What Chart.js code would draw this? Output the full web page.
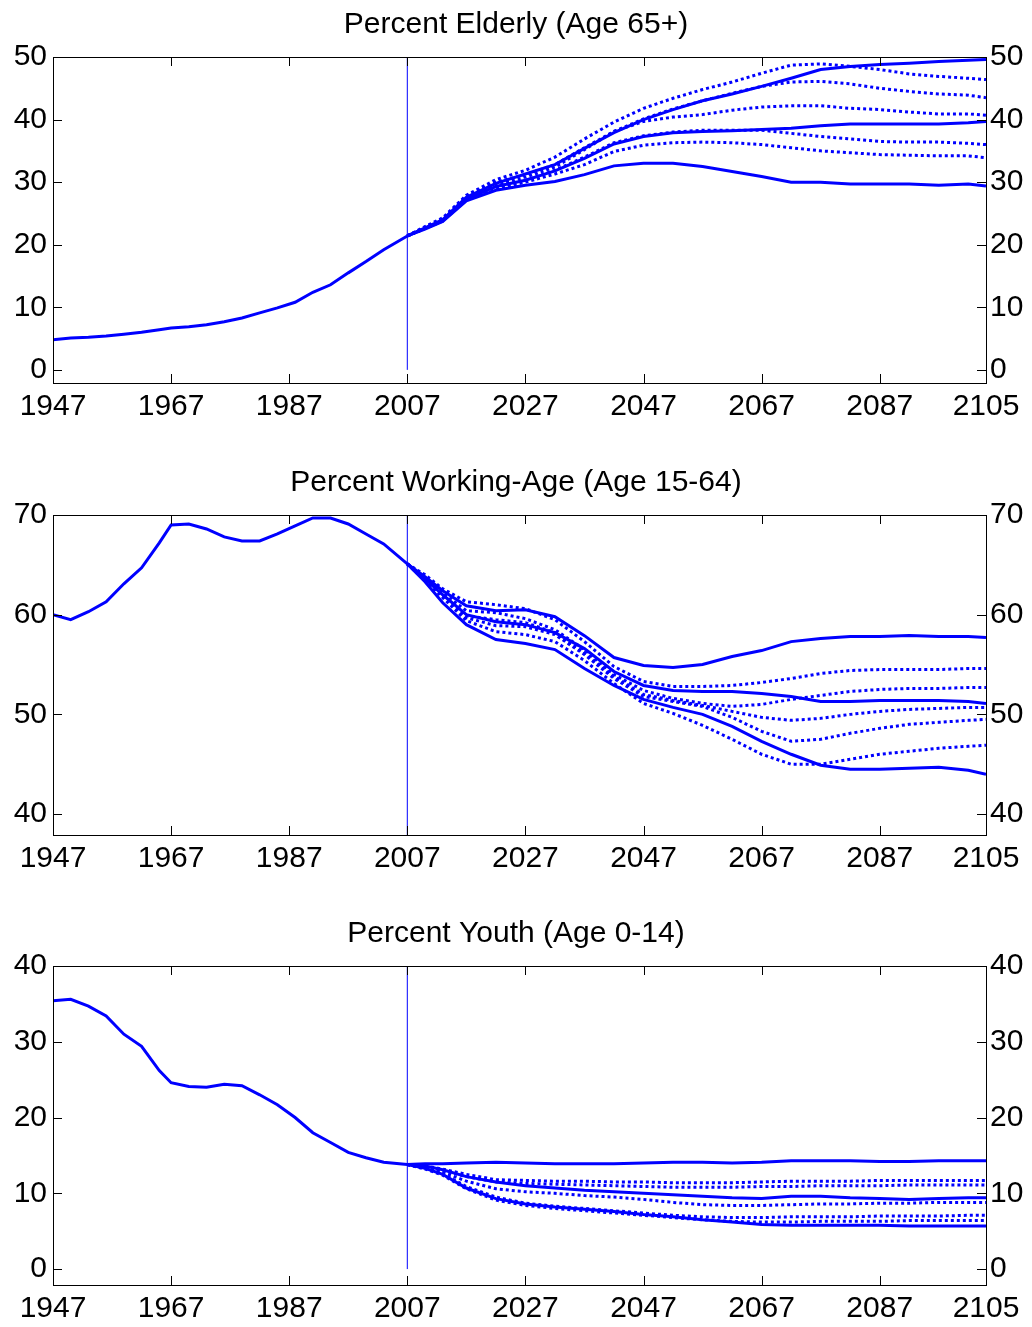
<!DOCTYPE html>
<html>
<head>
<meta charset="utf-8">
<title>Population shares</title>
<script src="https://cdn.jsdelivr.net/npm/chart.js@4.4.0/dist/chart.umd.min.js"></script>
<style>
    html, body { margin: 0; padding: 0; background: #ffffff; }
    body { width: 1032px; height: 1327px; position: relative; overflow: hidden; }
    canvas { position: absolute; left: 0; }
</style>
</head>
<body>
<canvas id="graficoElderly" width="1032" height="427" style="top:0px"></canvas>
<canvas id="graficoWorking" width="1032" height="421" style="top:458px"></canvas>
<canvas id="graficoYouth" width="1032" height="418" style="top:909px"></canvas>
<script>
// Anos (eixo x)
const histYears = [1947, 1950, 1953, 1956, 1959, 1962, 1965, 1967, 1970, 1973, 1976, 1979, 1982, 1985, 1988, 1991, 1994, 1997, 2000, 2003, 2007];
const projYears = [2007, 2010, 2013, 2017, 2022, 2027, 2032, 2037, 2042, 2047, 2052, 2057, 2062, 2067, 2072, 2077, 2082, 2087, 2092, 2097, 2102, 2105];
const xTickYears = [1947, 1967, 1987, 2007, 2027, 2047, 2067, 2087, 2105];

// Percent Elderly (Age 65+)
const elderlyTicks = [0, 10, 20, 30, 40, 50];
const elderlyHist = [4.8, 5.1, 5.2, 5.4, 5.7, 6.0, 6.4, 6.7, 6.9, 7.2, 7.7, 8.3, 9.1, 9.9, 10.8, 12.4, 13.6, 15.5, 17.3, 19.2, 21.4];
const elderlySolidHigh = [21.4, 22.7, 24.0, 27.6, 29.8, 31.3, 32.8, 35.4, 37.9, 40.0, 41.6, 43.0, 44.1, 45.3, 46.6, 48.0, 48.5, 48.8, 49.0, 49.3, 49.5, 49.6];
const elderlySolidMid = [21.4, 22.6, 23.8, 27.3, 29.3, 30.3, 31.8, 33.8, 36.1, 37.3, 37.9, 38.1, 38.2, 38.4, 38.6, 39.0, 39.3, 39.3, 39.3, 39.3, 39.5, 39.7];
const elderlySolidLow = [21.4, 22.5, 23.7, 27.0, 28.7, 29.5, 30.1, 31.2, 32.6, 33.0, 33.0, 32.5, 31.7, 30.9, 30.0, 30.0, 29.7, 29.7, 29.7, 29.5, 29.7, 29.4];
const elderlyDot1 = [21.4, 22.9, 24.3, 27.9, 30.4, 31.9, 34.0, 36.9, 39.6, 41.8, 43.4, 44.8, 46.0, 47.4, 48.7, 48.9, 48.5, 48.0, 47.3, 46.9, 46.6, 46.4];
const elderlyDot2 = [21.4, 22.8, 24.1, 27.7, 30.0, 31.2, 32.8, 35.5, 38.1, 40.1, 41.7, 43.0, 44.2, 45.3, 46.0, 46.1, 45.7, 45.0, 44.5, 44.1, 43.9, 43.5];
const elderlyDot3 = [21.4, 22.7, 24.0, 27.5, 29.6, 30.8, 32.4, 35.2, 38.1, 39.7, 40.4, 40.8, 41.5, 42.0, 42.2, 42.2, 41.8, 41.6, 41.2, 40.9, 40.9, 40.7];
const elderlyDot4 = [21.4, 22.6, 23.9, 27.4, 29.3, 30.3, 31.9, 34.0, 36.3, 37.4, 38.0, 38.3, 38.3, 38.3, 37.8, 37.3, 36.9, 36.5, 36.4, 36.4, 36.2, 36.0];
const elderlyDot5 = [21.4, 22.6, 23.8, 27.2, 28.9, 30.0, 31.3, 32.8, 34.9, 35.9, 36.3, 36.4, 36.3, 36.0, 35.5, 35.0, 34.7, 34.4, 34.3, 34.2, 34.2, 33.9];

// Percent Working-Age (Age 15-64)
const workingTicks = [40, 50, 60, 70];
const workingHist = [60.0, 59.5, 60.3, 61.3, 63.1, 64.7, 67.2, 69.0, 69.1, 68.6, 67.8, 67.4, 67.4, 68.1, 68.9, 69.7, 69.7, 69.1, 68.1, 67.1, 65.1];
const workingSolidHigh = [65.1, 63.8, 62.4, 60.9, 60.4, 60.5, 59.8, 57.9, 55.7, 54.9, 54.7, 55.0, 55.8, 56.4, 57.3, 57.6, 57.8, 57.8, 57.9, 57.8, 57.8, 57.7];
const workingSolidMid = [65.1, 63.6, 62.0, 60.0, 59.3, 59.0, 58.2, 56.6, 54.3, 52.9, 52.4, 52.3, 52.3, 52.1, 51.8, 51.3, 51.3, 51.4, 51.4, 51.4, 51.3, 51.1];
const workingSolidLow = [65.1, 63.3, 61.2, 59.0, 57.5, 57.1, 56.5, 54.6, 52.9, 51.5, 50.7, 50.0, 48.8, 47.3, 46.0, 44.9, 44.5, 44.5, 44.6, 44.7, 44.4, 44.0];
const workingDot1 = [65.1, 64.0, 62.6, 61.3, 61.0, 60.6, 59.5, 57.3, 54.8, 53.3, 52.8, 52.8, 52.9, 53.2, 53.6, 54.1, 54.4, 54.5, 54.5, 54.5, 54.6, 54.6];
const workingDot2 = [65.1, 63.7, 62.2, 60.4, 60.2, 59.6, 58.5, 56.5, 54.0, 52.4, 51.6, 51.1, 50.8, 51.0, 51.5, 51.9, 52.3, 52.5, 52.6, 52.6, 52.7, 52.7];
const workingDot3 = [65.1, 63.6, 62.0, 59.9, 59.5, 59.2, 58.2, 56.2, 53.8, 52.0, 51.4, 50.9, 50.3, 49.7, 49.4, 49.6, 50.0, 50.3, 50.5, 50.6, 50.7, 50.7];
const workingDot4 = [65.1, 63.5, 61.9, 59.7, 58.9, 58.8, 58.0, 56.0, 53.6, 51.8, 51.3, 50.8, 49.7, 48.3, 47.3, 47.5, 48.1, 48.6, 49.0, 49.2, 49.4, 49.5];
const workingDot5 = [65.1, 63.4, 61.7, 59.4, 58.3, 58.0, 57.3, 55.4, 53.1, 51.1, 50.1, 48.9, 47.5, 46.0, 45.0, 45.0, 45.5, 46.0, 46.3, 46.6, 46.8, 46.9];

// Percent Youth (Age 0-14)
const youthTicks = [0, 10, 20, 30, 40];
const youthHist = [35.4, 35.6, 34.7, 33.4, 31.0, 29.4, 26.2, 24.6, 24.1, 24.0, 24.4, 24.2, 23.0, 21.7, 20.0, 18.0, 16.7, 15.4, 14.7, 14.1, 13.8];
const youthSolidHigh = [13.8, 13.9, 13.9, 14.0, 14.1, 14.0, 13.9, 13.9, 13.9, 14.0, 14.1, 14.1, 14.0, 14.1, 14.3, 14.3, 14.3, 14.2, 14.2, 14.3, 14.3, 14.3];
const youthSolidMid = [13.8, 13.6, 13.1, 12.2, 11.5, 11.0, 10.7, 10.4, 10.2, 10.0, 9.8, 9.6, 9.4, 9.3, 9.6, 9.6, 9.4, 9.3, 9.2, 9.3, 9.4, 9.4];
const youthSolidLow = [13.8, 13.3, 12.5, 10.7, 9.3, 8.6, 8.2, 7.9, 7.6, 7.2, 6.9, 6.5, 6.2, 5.9, 5.8, 5.8, 5.8, 5.8, 5.7, 5.7, 5.7, 5.7];
const youthDot1 = [13.8, 13.6, 13.2, 12.5, 11.8, 11.7, 11.6, 11.6, 11.5, 11.5, 11.4, 11.4, 11.4, 11.5, 11.6, 11.6, 11.6, 11.7, 11.7, 11.7, 11.7, 11.7];
const youthDot2 = [13.8, 13.5, 13.0, 12.2, 11.5, 11.3, 11.2, 11.1, 11.0, 10.9, 10.8, 10.8, 10.8, 10.9, 10.9, 11.0, 11.0, 11.0, 11.1, 11.1, 11.1, 11.1];
const youthDot3 = [13.8, 13.4, 12.8, 11.6, 10.6, 10.2, 10.0, 9.7, 9.5, 9.2, 8.8, 8.5, 8.4, 8.4, 8.5, 8.6, 8.6, 8.7, 8.7, 8.8, 8.8, 8.8];
const youthDot4 = [13.8, 13.3, 12.6, 10.9, 9.5, 8.7, 8.3, 8.0, 7.7, 7.4, 7.1, 6.9, 6.8, 6.8, 6.9, 6.9, 6.9, 7.0, 7.0, 7.0, 7.1, 7.1];
const youthDot5 = [13.8, 13.2, 12.4, 10.6, 9.1, 8.4, 8.0, 7.7, 7.4, 7.1, 6.8, 6.5, 6.3, 6.2, 6.2, 6.3, 6.3, 6.3, 6.4, 6.4, 6.4, 6.4];

const BLUE = '#0000ff';
const FONT = "'Liberation Sans', Arial, Helvetica, sans-serif";

// Eixos no estilo MATLAB: moldura preta e ticks para dentro
const matlabAxes = {
    id: 'matlabAxes',
    afterDraw(chart) {
        const { ctx, chartArea: a, scales: { x, y } } = chart;
        const len = 9;
        ctx.save();
        ctx.strokeStyle = '#000000';
        ctx.lineWidth = 1;
        ctx.beginPath();
        x.ticks.forEach(t => {
            const px = Math.round(x.getPixelForValue(t.value)) + 0.5;
            ctx.moveTo(px, a.bottom); ctx.lineTo(px, a.bottom - len);
            ctx.moveTo(px, a.top); ctx.lineTo(px, a.top + len);
        });
        y.ticks.forEach(t => {
            const py = Math.round(y.getPixelForValue(t.value)) + 0.5;
            ctx.moveTo(a.left, py); ctx.lineTo(a.left + len, py);
            ctx.moveTo(a.right, py); ctx.lineTo(a.right - len, py);
        });
        ctx.stroke();
        ctx.strokeRect(Math.round(a.left) + 0.5, Math.round(a.top) + 0.5,
            Math.round(a.right - a.left), Math.round(a.bottom - a.top));
        ctx.restore();
    }
};

function series(years, values, dotted) {
    return {
        data: years.map((yr, i) => ({ x: yr, y: values[i] })),
        borderColor: BLUE,
        borderWidth: 3,
        borderDash: dotted ? [3, 3] : [],
        pointRadius: 0,
        tension: 0,
        fill: false
    };
}

function createPanel(canvasId, cfg) {
    const ctx = document.getElementById(canvasId).getContext('2d');
    const datasets = [
        {
            data: [{ x: 2007, y: cfg.vline[0] }, { x: 2007, y: cfg.vline[1] }],
            borderColor: BLUE, borderWidth: 1, pointRadius: 0
        },
        series(histYears, cfg.hist, false)
    ];
    cfg.dots.forEach(d => datasets.push(series(projYears, d, true)));
    cfg.solids.forEach(s => datasets.push(series(projYears, s, false)));

    const tickFont = { family: FONT, size: 30 };
    const yAxis = (pos, width, pad) => ({
        position: pos,
        min: cfg.min,
        max: cfg.max,
        grid: { display: false, drawTicks: false },
        border: { display: false },
        afterBuildTicks: s => { s.ticks = cfg.ticks.map(v => ({ value: v })); },
        afterFit: s => { s.width = width; },
        ticks: { color: '#000', font: tickFont, padding: pad, callback: v => String(v) }
    });

    return new Chart(ctx, {
        type: 'line',
        data: { datasets },
        options: {
            responsive: false,
            animation: false,
            layout: { padding: 0 },
            plugins: {
                legend: { display: false },
                tooltip: { enabled: false },
                title: {
                    display: true,
                    text: cfg.title,
                    color: '#000',
                    font: { family: FONT, size: 30, weight: 'normal' },
                    padding: { top: 7, bottom: 14 }
                }
            },
            scales: {
                x: {
                    type: 'linear',
                    min: 1947,
                    max: 2105,
                    grid: { display: false, drawTicks: false },
                    border: { display: false },
                    afterBuildTicks: s => { s.ticks = xTickYears.map(v => ({ value: v })); },
                    afterFit: s => { s.height = cfg.xHeight; },
                    ticks: { color: '#000', font: tickFont, padding: 6, maxRotation: 0, autoSkip: false, callback: v => String(v) }
                },
                y: yAxis('left', 53, 6),
                y2: yAxis('right', 46, 4)
            }
        },
        plugins: [matlabAxes]
    });
}

createPanel('graficoElderly', {
    title: 'Percent Elderly (Age 65+)',
    min: -2.1, max: 50, ticks: elderlyTicks, vline: [0, 50], xHeight: 44,
    hist: elderlyHist,
    solids: [elderlySolidHigh, elderlySolidMid, elderlySolidLow],
    dots: [elderlyDot1, elderlyDot2, elderlyDot3, elderlyDot4, elderlyDot5]
});

createPanel('graficoWorking', {
    title: 'Percent Working-Age (Age 15-64)',
    min: 37.9, max: 70, ticks: workingTicks, vline: [37.9, 70], xHeight: 44,
    hist: workingHist,
    solids: [workingSolidHigh, workingSolidMid, workingSolidLow],
    dots: [workingDot1, workingDot2, workingDot3, workingDot4, workingDot5]
});

createPanel('graficoYouth', {
    title: 'Percent Youth (Age 0-14)',
    min: -2.1, max: 40, ticks: youthTicks, vline: [0, 40], xHeight: 42,
    hist: youthHist,
    solids: [youthSolidHigh, youthSolidMid, youthSolidLow],
    dots: [youthDot1, youthDot2, youthDot3, youthDot4, youthDot5]
});
</script>
</body>
</html>
